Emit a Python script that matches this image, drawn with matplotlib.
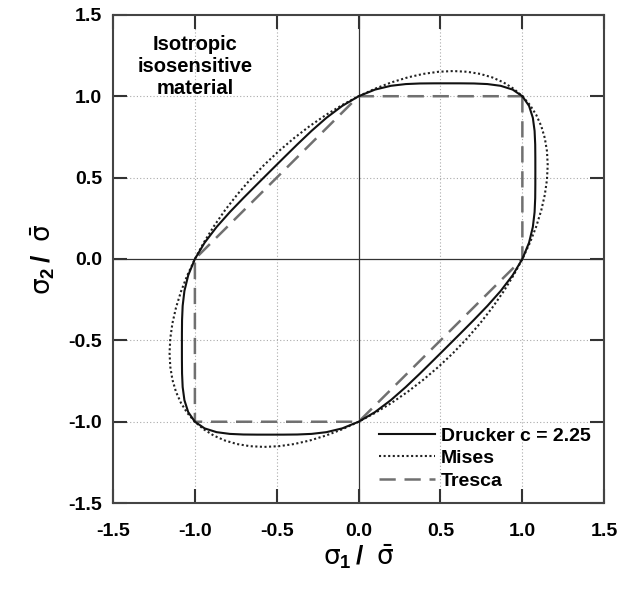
import numpy as np
import matplotlib
matplotlib.use('Agg')
import matplotlib.pyplot as plt

plt.rcParams['font.family'] = ['Liberation Sans', 'DejaVu Sans']
plt.rcParams['mathtext.fontset'] = 'custom'
plt.rcParams['mathtext.rm'] = 'DejaVu Sans'
plt.rcParams['mathtext.bf'] = 'Liberation Sans:bold'

# Yield loci in the sigma1/sigma2 plane (normalised by the uniaxial yield stress).
# Points read along the first quarter of each locus, from (1, 1) down to pure shear;
# the rest of the closed curve follows from the symmetries of an isotropic locus.
mises_s1 = [1.0000, 1.0465, 1.0851, 1.1154, 1.1372, 1.1503, 1.1547, 1.1503, 1.1372, 1.1154,
            1.0851, 1.0465, 1.0000, 0.9459, 0.8846, 0.8165, 0.7422, 0.6623, 0.5774]
mises_s2 = [1.0000, 0.9459, 0.8846, 0.8165, 0.7422, 0.6623, 0.5774, 0.4880, 0.3949, 0.2989,
            0.2005, 0.1006, 0.0000, -0.1006, -0.2005, -0.2989, -0.3949, -0.4880, -0.5774]

drucker_s1 = [1.0000, 1.0408, 1.0640, 1.0747, 1.0784, 1.0792, 1.0793, 1.0792, 1.0784, 1.0747,
              1.0640, 1.0407, 1.0000, 0.9407, 0.8674, 0.7867, 0.7038, 0.6214, 0.5397]
drucker_s2 = [1.0000, 0.9407, 0.8674, 0.7867, 0.7038, 0.6214, 0.5397, 0.4578, 0.3745, 0.2880,
              0.1966, 0.1000, 0.0000, -0.1000, -0.1966, -0.2880, -0.3745, -0.4578, -0.5397]

tresca_s1 = [1, 1, 0, -1, -1, 0, 1]
tresca_s2 = [1, 0, -1, -1, 0, 1, 1]

ticks = [-1.5, -1.0, -0.5, 0.0, 0.5, 1.0, 1.5]
tick_labels = ['-1.5', '-1.0', '-0.5', '0.0', '0.5', '1.0', '1.5']


def close_locus(s1, s2):
    # quarter -> half (mirror about sigma1 = -sigma2) -> full (point symmetry)
    s1 = np.asarray(s1)
    s2 = np.asarray(s2)
    h1 = np.concatenate([s1, -s2[::-1][1:]])
    h2 = np.concatenate([s2, -s1[::-1][1:]])
    return np.concatenate([h1, -h1[1:]]), np.concatenate([h2, -h2[1:]])


fig = plt.figure(figsize=(6.21, 5.94), dpi=100)
ax = fig.add_axes([0.182, 0.153, 0.791, 0.822])

# grid + zero lines
for v in [-1.0, -0.5, 0.5, 1.0]:
    ax.axhline(v, color='#aaaaaa', lw=0.8, ls=(0, (1, 2)), zorder=0)
    ax.axvline(v, color='#aaaaaa', lw=0.8, ls=(0, (1, 2)), zorder=0)
ax.axhline(0, color='#333333', lw=0.9, zorder=1)
ax.axvline(0, color='#333333', lw=0.9, zorder=1)

x, y = close_locus(drucker_s1, drucker_s2)
ax.plot(x, y, color='#111111', lw=1.5, label='Drucker c = 2.25', zorder=4)
x, y = close_locus(mises_s1, mises_s2)
ax.plot(x, y, color='#222222', lw=1.5, ls=(0, (1, 1.2)), label='Mises', zorder=3)
ax.plot(tresca_s1, tresca_s2, color='#707070', lw=1.8, ls=(0, (6.5, 3.5)), label='Tresca', zorder=2)

ax.set_xlim(-1.5, 1.5)
ax.set_ylim(-1.5, 1.5)
ax.set_xticks(ticks)
ax.set_yticks(ticks)
ax.set_xticklabels(tick_labels, fontweight='bold')
ax.set_yticklabels(tick_labels, fontweight='bold')
ax.tick_params(direction='in', length=10, width=1.5, top=True, right=True,
               labelsize=14, color='#333333')
ax.tick_params(axis='x', pad=14)
ax.tick_params(axis='y', pad=8)
for sp in ax.spines.values():
    sp.set_linewidth(1.5)
    sp.set_color('#444444')

ax.set_xlabel(r'$\mathrm{\sigma}_{\mathbf{1}}\,\mathbf{/}\;\;\bar{\mathrm{\sigma}}$',
              fontsize=19, labelpad=2)
ax.set_ylabel(r'$\mathrm{\sigma}_{\mathbf{2}}\,\mathbf{/}\;\;\bar{\mathrm{\sigma}}$',
              fontsize=19, labelpad=8)

ax.text(-1.0, 1.18, 'Isotropic\nisosensitive\nmaterial', ha='center', va='center',
        fontsize=14.5, fontweight='bold', linespacing=1.2)

ax.legend(loc='lower right', frameon=False, handlelength=2.9,
          handletextpad=0.3, labelspacing=0.25, borderaxespad=0.3,
          prop={'weight': 'bold', 'size': 14})

fig.savefig('out.png', dpi=100)
